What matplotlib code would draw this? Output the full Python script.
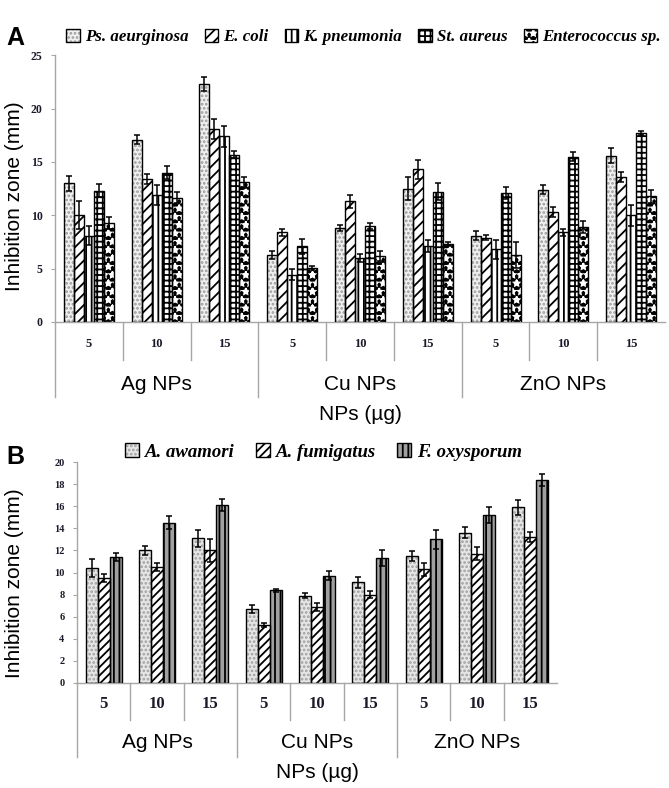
import matplotlib
matplotlib.use("Agg")
import matplotlib.pyplot as plt
from matplotlib.patches import Patch
from matplotlib.legend_handler import HandlerTuple
import numpy as np

# ---------------- data ----------------
groups = ["Ag NPs", "Cu NPs", "ZnO NPs"]
doses = ["5", "10", "15"]

bacteria = ["Ps. aeurginosa", "E. coli", "K. pneumonia", "St. aureus", "Enterococcus sp."]
ps_vals = [13.0, 17.1, 22.3, 6.3, 8.8, 12.5, 8.1, 12.4, 15.6]
ps_err = [0.7, 0.45, 0.65, 0.4, 0.3, 1.1, 0.4, 0.4, 0.7]
ecoli_vals = [10.0, 13.4, 18.1, 8.4, 11.3, 14.3, 7.9, 10.3, 13.6]
ecoli_err = [1.3, 0.45, 0.9, 0.3, 0.65, 0.9, 0.25, 0.5, 0.45]
kp_vals = [8.1, 11.9, 17.4, 4.45, 6.0, 7.1, 6.8, 8.4, 10.0]
kp_err = [0.9, 0.95, 1.0, 0.5, 0.4, 0.55, 0.9, 0.3, 1.0]
sa_vals = [12.3, 14.0, 15.7, 7.1, 9.0, 12.2, 12.1, 15.5, 17.7]
sa_err = [0.6, 0.6, 0.3, 0.7, 0.3, 0.8, 0.55, 0.4, 0.2]
ent_vals = [9.3, 11.65, 13.1, 5.1, 6.2, 7.3, 6.3, 8.9, 11.8]
ent_err = [0.55, 0.5, 0.5, 0.15, 0.45, 0.2, 1.2, 0.6, 0.6]

fungi = ["A. awamori", "A. fumigatus", "F. oxysporum"]
aw_vals = [10.4, 12.0, 13.1, 6.7, 7.9, 9.1, 11.5, 13.6, 15.9]
aw_err = [0.8, 0.4, 0.75, 0.36, 0.25, 0.5, 0.45, 0.48, 0.66]
fum_vals = [9.5, 10.5, 12.0, 5.25, 6.9, 8.0, 10.3, 11.7, 13.25]
fum_err = [0.35, 0.4, 1.05, 0.15, 0.35, 0.3, 0.6, 0.6, 0.45]
oxy_vals = [11.4, 14.5, 16.1, 8.4, 9.7, 11.3, 13.0, 15.2, 18.4]
oxy_err = [0.35, 0.6, 0.55, 0.15, 0.4, 0.75, 0.85, 0.75, 0.55]

# ---------------- styles ----------------
SERIF = "Liberation Serif"
SANS = "Liberation Sans"
AXC = "#a6a6a6"
plt.rcParams["hatch.linewidth"] = 1.3

# (facecolor, hatchcolor, hatch)
styleA = [("#f0f0f0", "#9a9a9a", "...."),
          ("white", "black", "///"),
          ("white", "black", "|||"),
          ("white", "black", "+++"),
          ("black", "white", "**")]
styleB = [("#e6e6e6", "#a0a0a0", "...."),
          ("white", "black", "////"),
          ("#a0a0a0", "black", "|||")]

W, H = 669, 788
fig = plt.figure(figsize=(W / 100, H / 100), dpi=100)


def draw_panel(ax, series, errs, styles, width, ymax, ystep, h_px, tickfs, catfs,
               inner_px, outer_px, cat_px, grp_px, title_px):
    n = len(series)
    x = np.arange(len(series[0]))
    for j, (vals, er, (fc, hc, hat)) in enumerate(zip(series, errs, styles)):
        pos = x + (j - (n - 1) / 2) * width
        ax.bar(pos, vals, width, color=fc, edgecolor=hc, hatch=hat, linewidth=0, zorder=2)
        ax.bar(pos, vals, width, fill=False, edgecolor="black", linewidth=1.0, zorder=3)
        ax.errorbar(pos, vals, yerr=er, fmt="none", ecolor="black", elinewidth=1.1,
                    capsize=2.3, capthick=1.1, zorder=4)
    ax.set_xlim(-0.5, len(x) - 0.5)
    ax.set_ylim(0, ymax)
    ax.set_yticks(np.arange(0, ymax + 0.01, ystep))
    ax.set_yticklabels([f"{int(v)}" for v in np.arange(0, ymax + 0.01, ystep)],
                       fontfamily=SERIF, fontweight="bold", fontsize=tickfs, color="#1a1a2a")
    ax.tick_params(axis="y", length=3, color=AXC, width=0.8, pad=6)
    ax.set_xticks([])
    for s in ["top", "right"]:
        ax.spines[s].set_visible(False)
    for s in ["left", "bottom"]:
        ax.spines[s].set_color(AXC)
        ax.spines[s].set_linewidth(1.0)
    tr = ax.get_xaxis_transform()
    yi = -inner_px / h_px
    yo = -outer_px / h_px
    for b in np.arange(-0.5, len(x) - 0.6, 1.0):
        gi = int(round(b + 0.5))
        bot = yo if gi % 3 == 0 else yi
        ax.plot([b, b], [0, bot], transform=tr, color=AXC, lw=1.0, clip_on=False)
    for i in x:
        ax.text(i, -cat_px / h_px, doses[i % 3], transform=tr, ha="center", va="center",
                fontfamily=SERIF, fontweight="bold", fontsize=catfs, color="#1a1a2a")
    for g, name in enumerate(groups):
        ax.text(3 * g + 1, -grp_px / h_px, name, transform=tr, ha="center", va="center",
                fontfamily=SANS, fontsize=15)
    ax.text(4, -title_px / h_px, "NPs (\u00b5g)", transform=tr, ha="center", va="center",
            fontfamily=SANS, fontsize=15)


# Panel A
hA = 322 - 55.3
axA = fig.add_axes([55 / W, (H - 322) / H, 610 / W, hA / H])
draw_panel(axA, [ps_vals, ecoli_vals, kp_vals, sa_vals, ent_vals],
           [ps_err, ecoli_err, kp_err, sa_err, ent_err], styleA,
           width=10 / 67.8, ymax=25, ystep=5, h_px=hA, tickfs=8.5, catfs=9,
           inner_px=38, outer_px=75, cat_px=22, grp_px=63, title_px=93)

# Panel B
hB = 683 - 462
axB = fig.add_axes([77 / W, (H - 683) / H, 480 / W, hB / H])
draw_panel(axB, [aw_vals, fum_vals, oxy_vals], [aw_err, fum_err, oxy_err], styleB,
           width=12 / 53.3, ymax=20, ystep=2, h_px=hB, tickfs=7.5, catfs=12,
           inner_px=37, outer_px=74, cat_px=21, grp_px=59, title_px=89)


def handles(styles):
    out = []
    for fc, hc, hat in styles:
        out.append((Patch(facecolor=fc, edgecolor=hc, hatch=hat, linewidth=0),
                    Patch(fill=False, edgecolor="black", linewidth=1.0)))
    return out


legA = fig.legend(handles(styleA), bacteria, loc="center left",
                  bbox_to_anchor=(63 / W, 1 - 37 / H),
                  ncol=5, frameon=False, handler_map={tuple: HandlerTuple(ndivide=1)},
                  prop={"family": SERIF, "weight": "bold", "style": "italic", "size": 12.2},
                  handlelength=0.8, handleheight=0.8, handletextpad=0.3, columnspacing=0.95,
                  borderpad=0.2, borderaxespad=0)
legB = fig.legend(handles(styleB), fungi, loc="center", bbox_to_anchor=(323.5 / W, 1 - 452 / H),
                  ncol=3, frameon=False, handler_map={tuple: HandlerTuple(ndivide=1)},
                  prop={"family": SERIF, "weight": "bold", "style": "italic", "size": 13.5},
                  handlelength=0.75, handleheight=0.75, handletextpad=0.3, columnspacing=1.15)

fig.text(15 / W, 1 - 38 / H, "A", fontfamily=SANS, fontweight="bold", fontsize=18,
         ha="center", va="center")
fig.text(15 / W, 1 - 457 / H, "B", fontfamily=SANS, fontweight="bold", fontsize=18,
         ha="center", va="center")
fig.text(14.5 / W, 1 - 196 / H, "Inhibition zone (mm)", fontfamily=SANS, fontsize=15,
         rotation=90, ha="center", va="center")
fig.text(14.5 / W, 1 - 583 / H, "Inhibition zone (mm)", fontfamily=SANS, fontsize=15,
         rotation=90, ha="center", va="center")

fig.savefig("out.png", dpi=100)
